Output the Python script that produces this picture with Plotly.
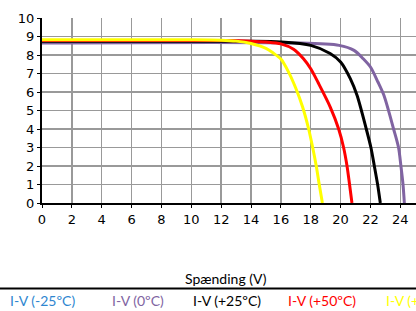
import plotly.graph_objects as go

# Voltage (V) / current (A)
v_75 = [0, 10, 12, 13, 14, 15, 15.5, 16, 16.5, 17.0, 17.45, 17.86, 18.13, 18.37, 18.57, 18.78]
i_75 = [8.82, 8.82, 8.80, 8.75, 8.62, 8.36, 8.10, 7.78, 7.10, 6.20, 5.20, 4.0, 3.0, 2.0, 1.0, 0]

v_50 = [0, 12, 14, 15, 16, 16.85, 17.5, 18, 18.5, 19.3, 19.87, 20.2, 20.43, 20.6, 20.76]
i_50 = [8.78, 8.78, 8.75, 8.70, 8.60, 8.31, 7.81, 7.26, 6.50, 5.20, 4.0, 3.0, 2.0, 1.0, 0]

v_25 = [0, 14, 16, 18, 19.3, 20, 20.65, 21.1, 21.72, 22.03, 22.26, 22.48, 22.66]
i_25 = [8.74, 8.74, 8.70, 8.52, 8.08, 7.62, 6.72, 5.82, 4.0, 3.0, 2.0, 1.0, 0]

v_0 = [0, 17, 19.9, 20.9, 21.5, 22, 22.5, 22.9, 23.55, 23.88, 24.04, 24.18, 24.27]
i_0 = [8.65, 8.65, 8.52, 8.25, 7.81, 7.35, 6.54, 5.82, 4.0, 3.0, 2.0, 1.0, 0]

legend_labels = ["I-V (-25ºC)", "I-V (0ºC)", "I-V (+25ºC)", "I-V (+50ºC)", "I-V (+75ºC)"]
legend_colors = ["#2e86d0", "#8064a2", "#000000", "#ff0000", "#ffff00"]
legend_px = [8, 110, 191, 286, 384]

x_ticks = list(range(0, 26, 2))
y_ticks = list(range(0, 11, 1))

W, H = 416, 311
L, R, T, B = 42, 0, 18, 108

fig = go.Figure()
series = [(v_0, i_0, "#8064a2"), (v_25, i_25, "#000000"), (v_50, i_50, "#ff0000"), (v_75, i_75, "#ffff00")]
for vx, iy, col in series:
    fig.add_trace(go.Scatter(x=vx, y=iy, mode="lines",
                             line=dict(color=col, width=3, shape="spline", smoothing=0.8),
                             showlegend=False, hoverinfo="skip"))

pw = W - L - R
ph = H - T - B


def py(v):
    return (H - B - v) / ph


for lab, col, px in zip(legend_labels, legend_colors, legend_px):
    fig.add_annotation(text=lab, x=(px - L) / pw, xref="paper", xanchor="left",
                       y=py(300), yref="paper", yanchor="middle", showarrow=False,
                       font=dict(family="Lato", size=14, color=col))

fig.add_annotation(text="Spænding (V)", x=(226 - L) / pw, xref="paper", xanchor="center",
                   y=py(278), yref="paper", yanchor="middle", showarrow=False,
                   font=dict(family="Lato", size=14, color="#000000"))

fig.add_shape(type="line", xref="paper", yref="paper",
              x0=-L / pw, x1=1 + 1 / pw, y0=py(288.5), y1=py(288.5),
              line=dict(color="#000000", width=2))

fig.update_xaxes(range=[0, pw / 14.93], tickvals=x_ticks, showgrid=True, gridcolor="#999999", gridwidth=1.5,
                 showline=True, linecolor="#000000", linewidth=2, ticks="outside", ticklen=3,
                 tickcolor="#000000", zeroline=False,
                 tickfont=dict(family="DejaVu Sans", size=13, color="#000000"))
fig.update_yaxes(range=[0, 10], tickvals=y_ticks, showgrid=True, gridcolor="#999999", gridwidth=1.5,
                 showline=True, linecolor="#000000", linewidth=2, ticks="outside", ticklen=3,
                 tickcolor="#000000", zeroline=False,
                 tickfont=dict(family="DejaVu Sans", size=13, color="#000000"))

fig.update_layout(width=W, height=H, margin=dict(l=L, r=R, t=T, b=B),
                  paper_bgcolor="#ffffff", plot_bgcolor="#ffffff", showlegend=False)

fig.write_html("out.html", config={"displayModeBar": False, "staticPlot": True},
               post_script="document.body.style.margin='0';document.body.style.overflow='hidden';")
